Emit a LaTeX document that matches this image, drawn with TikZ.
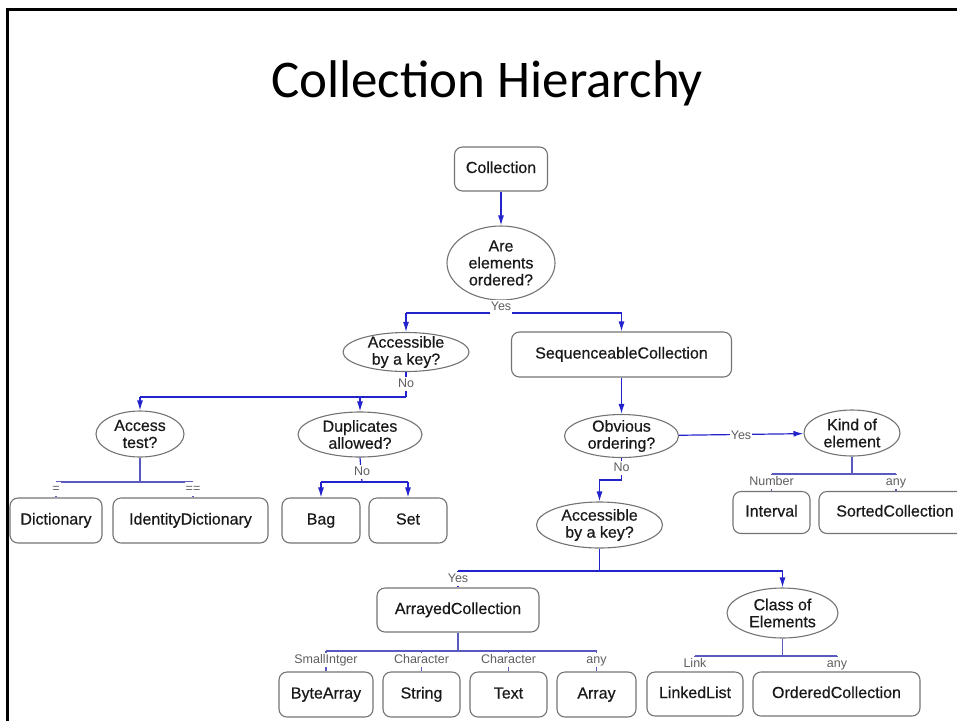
\documentclass[tikz,border=0pt]{standalone}
\usepackage{fontspec}
\setmainfont{Liberation Sans}
\newfontfamily\titlefont{Carlito}
\newfontfamily\nodefont[FakeBold=0.5]{Liberation Sans}
\usetikzlibrary{shapes.geometric,arrows.meta}

\definecolor{linkblue}{RGB}{35,35,205}
\definecolor{barblue}{RGB}{90,90,190}
\definecolor{edgegray}{RGB}{115,115,115}
\definecolor{labelgray}{RGB}{95,95,95}
\definecolor{textdark}{RGB}{25,25,25}

\tikzset{
  classbox/.style={draw=edgegray, line width=1.1pt, rounded corners=8pt,
    inner sep=0pt, text height=11.5pt, text depth=3.5pt,
    font=\nodefont\fontsize{16}{18}\selectfont, text=textdark},
  question/.style={draw=edgegray, line width=1.1pt, ellipse, inner sep=0pt},
  qtext/.style={align=center, inner sep=0pt, text=textdark,
    font=\nodefont\fontsize{16}{17}\selectfont},
  branchlabel/.style={fill=white, inner sep=1pt, text height=9pt, text depth=2.5pt,
    text=labelgray, font=\fontsize{12.5}{13}\selectfont},
  arrowlink/.style={draw=linkblue, line width=1.2pt,
    -{Latex[length=10pt,width=6pt]}},
  plainlink/.style={draw=linkblue, line width=1.2pt},
  barlink/.style={draw=barblue, line width=1.2pt},
}

\begin{document}
\begin{tikzpicture}[x=1pt,y=-1pt]
\useasboundingbox (0,0) rectangle (957,721);
\clip (0,0) rectangle (957,721);

% slide frame and heading
\draw[line width=3pt] (957,9) -- (7,9) -- (7,721);
\node[anchor=base, inner sep=0pt, font=\titlefont\fontsize{53}{60}\selectfont]
  (title) at (487,97) {Collection Hierarchy};

% ---------- classes and decisions ----------
\node[classbox, minimum width=93pt, minimum height=44pt] (coll) at (501,169) {Collection};
\node[question, minimum width=108pt, minimum height=74pt,
  label={[qtext]center:Are\\elements\\ordered?}] (are) at (501,263) {};

\node[question, minimum width=126pt, minimum height=39pt,
  label={[qtext]center:Accessible\\by a key?}] (acc1) at (406,352) {};
\node[classbox, minimum width=220pt, minimum height=45pt] (seq) at (621.5,354.5) {SequenceableCollection};

\node[question, minimum width=88pt, minimum height=46pt,
  label={[qtext]center:Access\\test?}] (acct) at (140,434) {};
\node[question, minimum width=124pt, minimum height=45pt,
  label={[qtext]center:Duplicates\\allowed?}] (dup) at (360,434.5) {};

\node[classbox, minimum width=92pt, minimum height=45pt] (dict) at (56,520.5) {Dictionary};
\node[classbox, minimum width=155pt, minimum height=45pt] (iddict) at (190.5,520.5) {IdentityDictionary};
\node[classbox, minimum width=78pt, minimum height=45pt] (bag) at (321,520.5) {Bag};
\node[classbox, minimum width=78pt, minimum height=45pt] (set) at (408,520.5) {Set};

\node[question, minimum width=114pt, minimum height=43pt,
  label={[qtext]center:Obvious\\ordering?}] (obv) at (621.5,436) {};
\node[question, minimum width=96pt, minimum height=46pt,
  label={[qtext]center:Kind of\\element}] (kind) at (852,433) {};

\node[classbox, minimum width=77pt, minimum height=42pt] (interval) at (771.5,512.5) {Interval};
\node[classbox, minimum width=152pt, minimum height=42pt] (sorted) at (895,512.5) {SortedCollection};

\node[question, minimum width=126pt, minimum height=46pt,
  label={[qtext]center:Accessible\\by a key?}] (acc2) at (599.5,525) {};

\node[classbox, minimum width=162pt, minimum height=44pt] (arrayed) at (458,610) {ArrayedCollection};
\node[question, minimum width=111pt, minimum height=50pt,
  label={[qtext]center:Class of\\Elements}] (classel) at (782.5,613) {};

\node[classbox, minimum width=94pt, minimum height=45pt] (bytearray) at (326,694.5) {ByteArray};
\node[classbox, minimum width=77pt, minimum height=45pt] (string) at (421.5,694.5) {String};
\node[classbox, minimum width=77pt, minimum height=45pt] (text) at (508.5,694.5) {Text};
\node[classbox, minimum width=79pt, minimum height=45pt] (array) at (596.5,694.5) {Array};
\node[classbox, minimum width=96pt, minimum height=44pt] (linked) at (695,694) {LinkedList};
\node[classbox, minimum width=167pt, minimum height=44pt] (ordered) at (836.5,694) {OrderedCollection};

% ---------- junction points of the branch bars ----------
\coordinate (t0) at (501,313);
\coordinate (tl) at (406,313);
\coordinate (tr) at (621.5,313);
\coordinate (k0) at (406,397);
\coordinate (kl) at (140,397);
\coordinate (kr) at (360,397);
\coordinate (a0) at (140,482);
\coordinate (al) at (56,482);
\coordinate (ar) at (193,482);
\coordinate (d0) at (362,482);
\coordinate (dl) at (321,482);
\coordinate (dr) at (408,482);
\coordinate (o0) at (621.5,480);
\coordinate (e0) at (852,474);
\coordinate (el) at (771.5,474);
\coordinate (er) at (896,474);
\coordinate (s0) at (599.5,571);
\coordinate (sl) at (458,571);
\coordinate (sr) at (782.5,571);
\coordinate (r0) at (458,651);
\coordinate (r1) at (326,651);
\coordinate (r2) at (421.5,651);
\coordinate (r3) at (508.5,651);
\coordinate (r4) at (596.5,651);
\coordinate (c0) at (782.5,656);
\coordinate (cl) at (695,656);
\coordinate (cr) at (837,656);

% ---------- connectors ----------
\draw[arrowlink] (coll) -- (are);
\draw[plainlink] (are.south) -- (t0);
\draw[plainlink] (tl) -- (tr);
\draw[arrowlink] (tl) -- (acc1.north);
\draw[arrowlink] (tr) -- (seq.north);

\draw[plainlink] (acc1.south) -- (k0);
\draw[plainlink] (kl) -- (k0);
\draw[arrowlink] (kl) -- (acct.north);
\draw[arrowlink] (kr) -- (dup.north);

\draw[barlink] (acct.south) -- (a0);
\draw[barlink] (al) -- (ar);
\draw[barlink] (al) -- (dict.north);
\draw[barlink] (ar) -- (ar |- iddict.north);

\draw[plainlink] (dup.south) -- (d0);
\draw[plainlink] (dl) -- (dr);
\draw[arrowlink] (dl) -- (bag.north);
\draw[arrowlink] (dr) -- (set.north);

\draw[arrowlink] (seq) -- (obv);
\draw[arrowlink] (obv) -- (kind);
\draw[plainlink] (obv.south) -- (o0);
\draw[arrowlink] (o0) -| (acc2.north);

\draw[barlink] (kind.south) -- (e0);
\draw[barlink] (el) -- (er);
\draw[barlink] (el) -- (interval.north);
\draw[barlink] (er) -- (er |- sorted.north);

\draw[plainlink] (acc2.south) -- (s0);
\draw[plainlink] (sl) -- (sr);
\draw[plainlink] (sl) -- (arrayed.north);
\draw[arrowlink] (sr) -- (classel.north);

\draw[barlink] (arrayed.south) -- (r0);
\draw[barlink] (r1) -- (r4);
\draw[barlink] (r1) -- (bytearray.north);
\draw[barlink] (r2) -- (string.north);
\draw[barlink] (r3) -- (text.north);
\draw[barlink] (r4) -- (array.north);

\draw[barlink] (classel.south) -- (c0);
\draw[barlink] (cl) -- (cr);
\draw[barlink] (cl) -- (linked.north);
\draw[barlink] (cr) -- (cr |- ordered.north);

% ---------- branch labels ----------
\node[branchlabel] (yes1) at (501,307) {Yes};
\node[branchlabel] (no1) at (406,384) {No};
\node[branchlabel] (noDup) at (362,472) {No};
\node[branchlabel] (eq) at (56,489) {=};
\node[branchlabel] (eqeq) at (193,489) {==};
\node[branchlabel] (yesObv) at (741,436) {Yes};
\node[branchlabel] (noObv) at (621.5,468) {No};
\node[branchlabel] (number) at (771.5,482) {Number};
\node[branchlabel] (anyKind) at (896,482) {any};
\node[branchlabel] (yesAcc) at (458,579) {Yes};
\node[branchlabel] (small) at (326,660) {SmallIntger};
\node[branchlabel] (charA) at (421.5,660) {Character};
\node[branchlabel] (charB) at (508.5,660) {Character};
\node[branchlabel] (anyArr) at (596.5,660) {any};
\node[branchlabel] (link) at (695,664) {Link};
\node[branchlabel] (anyCls) at (837,664) {any};
\end{tikzpicture}
\end{document}
